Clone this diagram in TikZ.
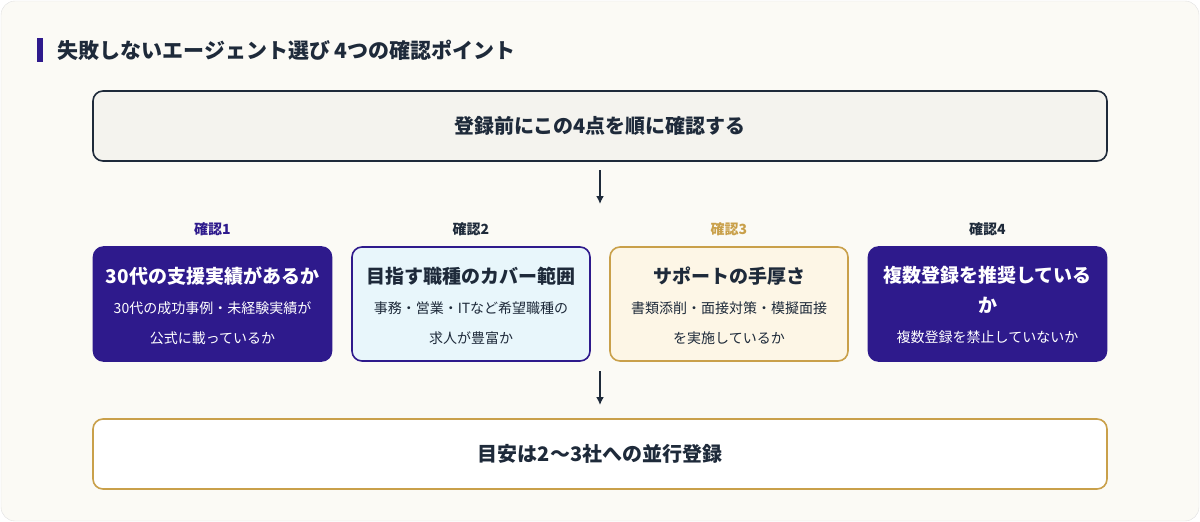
\documentclass[tikz,border=0pt]{standalone}
\usepackage{fontspec}
\setmainfont{Noto Sans CJK JP}
\usetikzlibrary{positioning}
\usetikzlibrary{arrows.meta}
\definecolor{navy}{RGB}{30, 42, 58}
\definecolor{deep}{RGB}{46, 26, 140}
\definecolor{gold}{RGB}{201, 160, 74}
\definecolor{bgc}{RGB}{251, 250, 245}
\definecolor{topc}{RGB}{244, 243, 238}
\definecolor{skyc}{RGB}{232, 246, 251}
\definecolor{crmc}{RGB}{253, 246, 230}
\tikzset{
	box/.style={rounded corners=10pt, line width=1.6pt, minimum height=114pt, minimum width=238pt, inner sep=0pt},
	wide/.style={rounded corners=10pt, line width=1.6pt, minimum height=70pt, minimum width=1014pt, inner sep=0pt, font=\bfseries\fontsize{20}{24}\selectfont, text=navy},
	tag/.style={font=\bfseries\fontsize{14}{16}\selectfont},
	arr/.style={-{Latex[length=8pt,width=8pt]}, line width=1.6pt, draw=navy}
}
\begin{document}
\begin{tikzpicture}[x=1pt,y=-1pt]
	\useasboundingbox (0,0) rectangle (1200,522);
	\draw [fill=bgc, draw=black!12, rounded corners=14pt] (1,1) rectangle (1199,521);
	\fill [deep] (37,38) rectangle (43,62);
	\node (title) [anchor=west, font=\bfseries\fontsize{21}{24}\selectfont, text=navy] at (54,50) {失敗しないエージェント選び 4つの確認ポイント};
	\node (top) [wide, fill=topc, draw=navy] at (600,126) {登録前にこの4点を順に確認する};
	\node (c1) [box, fill=deep, draw=deep, text=white] at (212.5,304) {};
	\node (c2) [box, fill=skyc, draw=deep, text=navy] at (471,304) {};
	\node (c3) [box, fill=crmc, draw=gold, text=navy] at (729,304) {};
	\node (c4) [box, fill=deep, draw=deep, text=white] at (987.5,304) {};
	\node (t1) [tag, text=deep] at (212.5,229) {確認1};
	\node (t2) [tag, text=navy] at (471,229) {確認2};
	\node (t3) [tag, text=gold] at (729,229) {確認3};
	\node (t4) [tag, text=navy] at (987.5,229) {確認4};
	\node [text=white, align=center, font=\fontsize{14}{30}\selectfont] at (212.5,306) {{\bfseries\fontsize{19}{30}\selectfont 30代の支援実績があるか}\\30代の成功事例・未経験実績が\\公式に載っているか};
	\node [text=navy, align=center, font=\fontsize{14}{30}\selectfont] at (471,306) {{\bfseries\fontsize{19}{30}\selectfont 目指す職種のカバー範囲}\\事務・営業・ITなど希望職種の\\求人が豊富か};
	\node [text=navy, align=center, font=\fontsize{14}{30}\selectfont] at (729,306) {{\bfseries\fontsize{19}{30}\selectfont サポートの手厚さ}\\書類添削・面接対策・模擬面接\\を実施しているか};
	\node [text=white, align=center, font=\fontsize{14}{30}\selectfont] at (987.5,305) {{\bfseries\fontsize{19}{29}\selectfont 複数登録を推奨している}\\{\bfseries\fontsize{19}{29}\selectfont か}\\複数登録を禁止していないか};
	\node (bot) [wide, fill=white, draw=gold] at (600,454) {目安は2〜3社への並行登録};
	\coordinate (a1) at (600,170);
	\coordinate (a2) at (600,204);
	\coordinate (b1) at (600,371);
	\coordinate (b2) at (600,405);
	\draw [arr] (a1) -- (a2);
	\draw [arr] (b1) -- (b2);
\end{tikzpicture}
\end{document}
